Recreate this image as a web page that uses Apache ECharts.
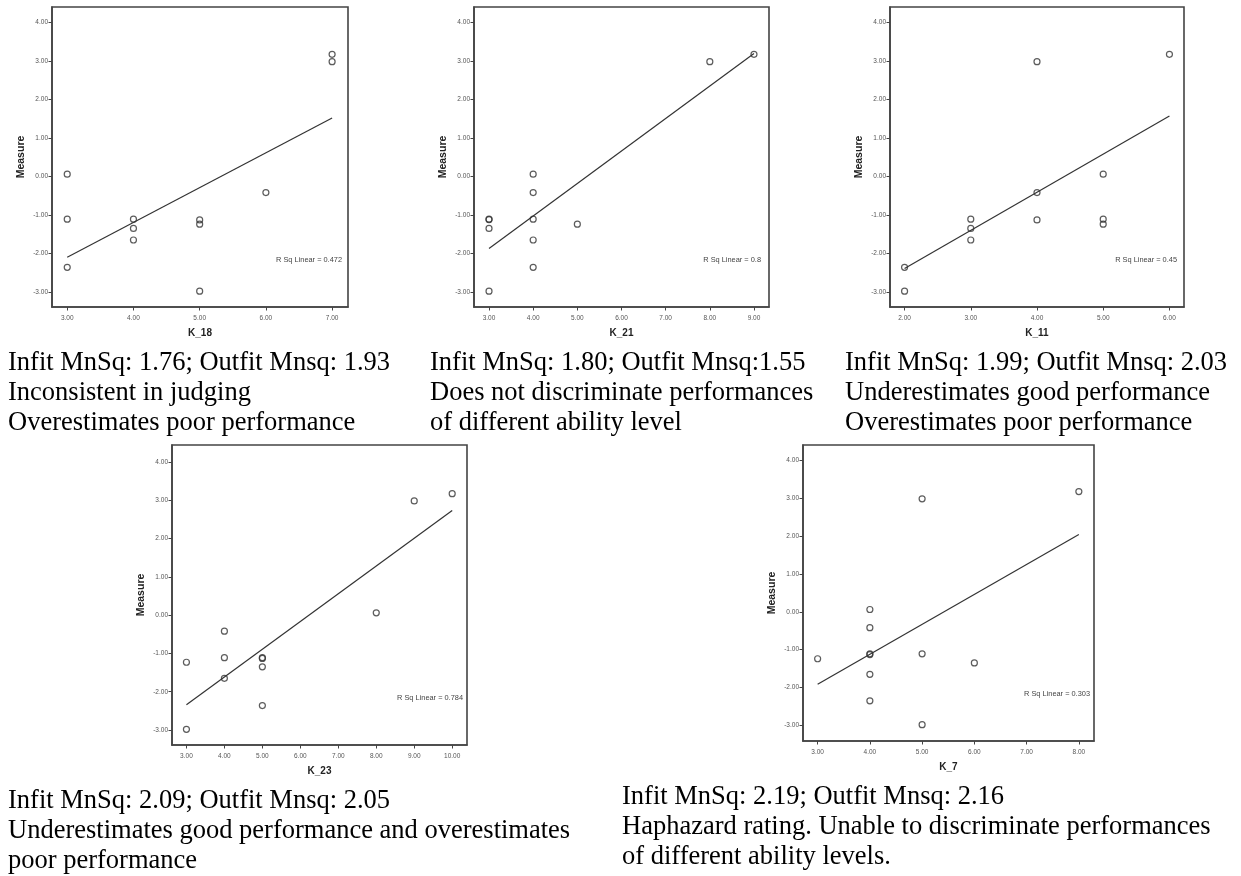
<!DOCTYPE html>
<html>
<head>
<meta charset="utf-8">
<script src="https://cdn.jsdelivr.net/npm/echarts@6/dist/echarts.min.js"></script>
<style>
  html, body { margin: 0; padding: 0; background: #fff; }
  #main { width: 1241px; height: 876px; }
</style>
</head>
<body>
<div id="main"></div>
<script>
// rater scores (x) vs. performance measure (y), one set per rater
var k18Score = [3, 3, 3, 4, 4, 4, 5, 5, 5, 6, 7, 7];
var k18Measure = [0.06, -1.11, -2.36, -1.11, -1.35, -1.65, -1.13, -1.24, -2.98, -0.42, 3.17, 2.98];
var k18Fit = [[3, -2.1], [7, 1.52]];

var k21Score = [3, 3, 3, 3, 4, 4, 4, 4, 4, 5, 8, 9];
var k21Measure = [-1.11, -1.12, -1.35, -2.98, 0.06, -0.42, -1.11, -1.65, -2.36, -1.24, 2.98, 3.17];
var k21Fit = [[3, -1.87], [9, 3.19]];

var k11Score = [2, 2, 3, 3, 3, 4, 4, 4, 5, 5, 5, 6];
var k11Measure = [-2.36, -2.98, -1.11, -1.35, -1.65, 2.98, -0.42, -1.13, 0.06, -1.11, -1.24, 3.17];
var k11Fit = [[2, -2.39], [6, 1.57]];

var k23Score = [3, 3, 4, 4, 4, 5, 5, 5, 5, 8, 9, 10];
var k23Measure = [-1.23, -2.98, -0.42, -1.11, -1.65, -1.11, -1.13, -1.35, -2.36, 0.06, 2.98, 3.17];
var k23Fit = [[3, -2.34], [10, 2.73]];

var k7Score = [3, 4, 4, 4, 4, 4, 4, 5, 5, 5, 6, 8];
var k7Measure = [-1.24, 0.06, -0.42, -1.11, -1.13, -1.65, -2.35, 2.98, -1.11, -2.98, -1.35, 3.17];
var k7Fit = [[3, -1.91], [8, 2.04]];

var yTicks = [-3, -2, -1, 0, 1, 2, 3, 4];
var rSq = ['R Sq Linear = 0.472', 'R Sq Linear = 0.8', 'R Sq Linear = 0.45', 'R Sq Linear = 0.784', 'R Sq Linear = 0.303'];

var captions = [
  'Infit MnSq: 1.76; Outfit Mnsq: 1.93\nInconsistent in judging\nOverestimates poor performance',
  'Infit MnSq: 1.80; Outfit Mnsq:1.55\nDoes not discriminate performances\nof different ability level',
  'Infit MnSq: 1.99; Outfit Mnsq: 2.03\nUnderestimates good performance\nOverestimates poor performance',
  'Infit MnSq: 2.09; Outfit Mnsq: 2.05\nUnderestimates good performance and overestimates\npoor performance',
  'Infit MnSq: 2.19; Outfit Mnsq: 2.16\nHaphazard rating. Unable to discriminate performances\nof different ability levels.'
];

var panels = [
  {name: 'K_18', x: k18Score, y: k18Measure, fit: k18Fit, xTicks: [3, 4, 5, 6, 7], xMin: 2.77, xMax: 7.24, yMin: -3.39, yMax: 4.40,
   grid: {left: 52, top: 7, width: 296, height: 300}, rsq: [342, 260], cap: [8, 348]},
  {name: 'K_21', x: k21Score, y: k21Measure, fit: k21Fit, xTicks: [3, 4, 5, 6, 7, 8, 9], xMin: 2.66, xMax: 9.34, yMin: -3.39, yMax: 4.40,
   grid: {left: 474, top: 7, width: 295, height: 300}, rsq: [761, 260], cap: [430, 348]},
  {name: 'K_11', x: k11Score, y: k11Measure, fit: k11Fit, xTicks: [2, 3, 4, 5, 6], xMin: 1.78, xMax: 6.22, yMin: -3.39, yMax: 4.40,
   grid: {left: 890, top: 7, width: 294, height: 300}, rsq: [1177, 260], cap: [845, 348]},
  {name: 'K_23', x: k23Score, y: k23Measure, fit: k23Fit, xTicks: [3, 4, 5, 6, 7, 8, 9, 10], xMin: 2.62, xMax: 10.39, yMin: -3.39, yMax: 4.44,
   grid: {left: 172, top: 445, width: 295, height: 300}, rsq: [463, 698], cap: [8, 786]},
  {name: 'K_7', x: k7Score, y: k7Measure, fit: k7Fit, xTicks: [3, 4, 5, 6, 7, 8], xMin: 2.72, xMax: 8.29, yMin: -3.41, yMax: 4.40,
   grid: {left: 803, top: 445, width: 291, height: 296}, rsq: [1090, 694], cap: [622, 782]}
];

var axisColor = '#444';
var fmt = function (v) { return v.toFixed(2); };

var grids = [], xAxes = [], yAxes = [], series = [], graphics = [];

panels.forEach(function (p, i) {
  grids.push({
    left: p.grid.left, top: p.grid.top, width: p.grid.width, height: p.grid.height,
    show: true, borderColor: axisColor, borderWidth: 1.6, backgroundColor: 'transparent'
  });
  xAxes.push({
    gridIndex: i, type: 'value', min: p.xMin, max: p.xMax,
    name: p.name, nameLocation: 'middle', nameGap: 21,
    nameTextStyle: {fontFamily: 'Liberation Sans', fontWeight: 'bold', fontSize: 10, color: '#222'},
    axisLine: {show: true, onZero: false, lineStyle: {color: axisColor, width: 1.6}},
    axisTick: {show: true, length: 3.5, customValues: p.xTicks, lineStyle: {color: axisColor}},
    axisLabel: {customValues: p.xTicks, formatter: fmt, fontSize: 6.5, color: '#555', margin: 8, fontFamily: 'Liberation Sans'},
    splitLine: {show: false}
  });
  yAxes.push({
    gridIndex: i, type: 'value', min: p.yMin, max: p.yMax,
    name: 'Measure', nameLocation: 'middle', nameGap: 25,
    nameTextStyle: {fontFamily: 'Liberation Sans', fontWeight: 'bold', fontSize: 10.5, color: '#222'},
    axisLine: {show: true, onZero: false, lineStyle: {color: axisColor, width: 1.6}},
    axisTick: {show: true, length: 3.5, customValues: yTicks, lineStyle: {color: axisColor}},
    axisLabel: {customValues: yTicks, formatter: fmt, fontSize: 6.5, color: '#555', margin: 4, fontFamily: 'Liberation Sans'},
    splitLine: {show: false}
  });
  series.push({
    type: 'line', xAxisIndex: i, yAxisIndex: i, data: p.fit,
    symbol: 'none', silent: true,
    lineStyle: {color: '#333', width: 1.2}
  });
  series.push({
    type: 'scatter', xAxisIndex: i, yAxisIndex: i,
    data: p.x.map(function (v, j) { return [v, p.y[j]]; }),
    symbol: 'circle', symbolSize: 6,
    itemStyle: {color: 'rgba(0,0,0,0)', borderColor: '#333', borderWidth: 1.2}
  });
  graphics.push({
    type: 'text', x: p.rsq[0], y: p.rsq[1], silent: true,
    style: {text: rSq[i], textAlign: 'right', textVerticalAlign: 'middle',
            font: '7.4px "Liberation Sans"', fill: '#444'}
  });
  graphics.push({
    type: 'text', x: p.cap[0], y: p.cap[1], silent: true,
    style: {text: captions[i], textAlign: 'left', textVerticalAlign: 'top',
            fontFamily: 'Liberation Serif', fontSize: 26.5, lineHeight: 30, fill: '#000'}
  });
});

var myecharts = echarts.init(document.getElementById('main'));
myecharts.setOption({
  animation: false,
  backgroundColor: '#fff',
  grid: grids,
  xAxis: xAxes,
  yAxis: yAxes,
  series: series,
  graphic: graphics
});
</script>
</body>
</html>
